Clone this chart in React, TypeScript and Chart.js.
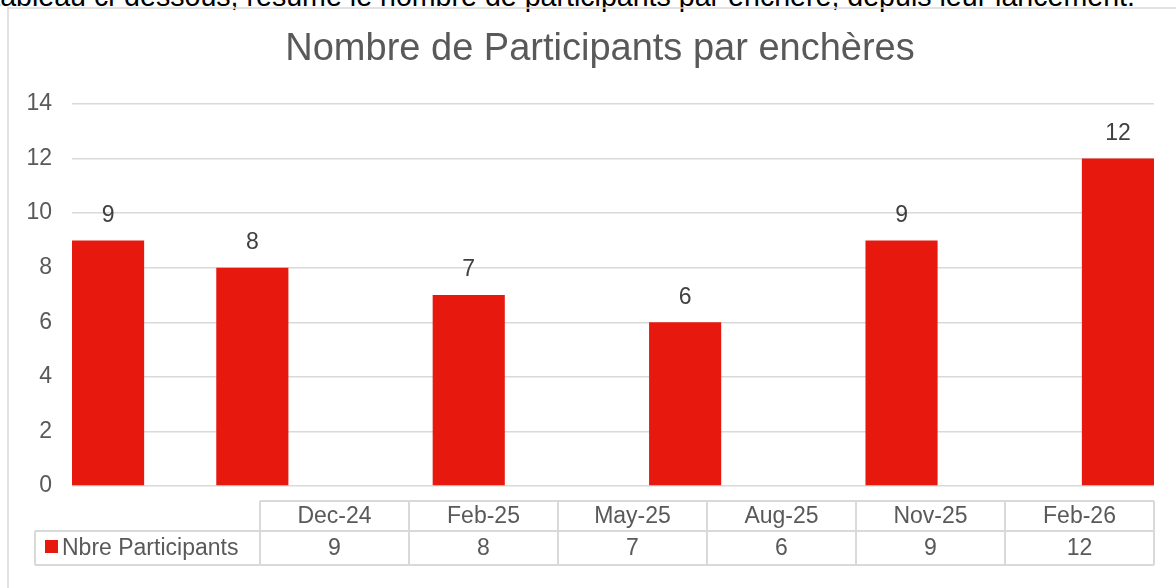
import React, { useEffect, useRef } from 'react';
import { Chart, registerables } from 'chart.js';

Chart.register(...registerables);

const INTRO_TEXT = 'Le tableau ci-dessous, résume le nombre de participants par enchère, depuis leur lancement.';
const TITLE = 'Nombre de Participants par enchères';
const SERIES_NAME = 'Nbre Participants';
const CATEGORIES = ['Dec-24', 'Feb-25', 'May-25', 'Aug-25', 'Nov-25', 'Feb-26'];
const VALUES = [9, 8, 7, 6, 9, 12];
const Y_MIN = 0;
const Y_MAX = 14;
const Y_STEP = 2;

const MONTHS = ['Jan', 'Feb', 'Mar', 'Apr', 'May', 'Jun', 'Jul', 'Aug', 'Sep', 'Oct', 'Nov', 'Dec'];
function monthNumber(label: string): number {
  const [m, y] = label.split('-');
  return (2000 + Number(y)) * 12 + MONTHS.indexOf(m);
}
const BASE_MONTH = monthNumber(CATEGORIES[0]);
const POSITIONS = CATEGORIES.map((c) => monthNumber(c) - BASE_MONTH);

const RED = '#E7190F';
const GRID = '#D9D9D9';
const TEXT = '#595959';
const LABEL = '#404040';
const FONT = '"Liberation Sans", Arial, sans-serif';

const decoPlugin = {
  id: 'deco',
  afterDatasetsDraw(chart: any) {
    const ctx = chart.ctx;
    const meta = chart.getDatasetMeta(0);
    ctx.save();
    ctx.fillStyle = LABEL;
    ctx.font = `23px ${FONT}`;
    ctx.textAlign = 'center';
    ctx.textBaseline = 'middle';
    meta.data.forEach((bar: any, i: number) => {
      ctx.fillText(String(VALUES[i]), bar.x, bar.y - 25);
    });
    ctx.restore();
  },
  afterDraw(chart: any) {
    const ctx = chart.ctx;
    const area = chart.chartArea;
    ctx.save();

    // outer frame (left + top)
    ctx.strokeStyle = GRID;
    ctx.lineWidth = 1.5;
    ctx.beginPath();
    ctx.moveTo(8, chart.height);
    ctx.lineTo(8, 8);
    ctx.lineTo(chart.width, 8);
    ctx.stroke();

    // title
    ctx.fillStyle = TEXT;
    ctx.font = `38px ${FONT}`;
    ctx.textAlign = 'center';
    ctx.textBaseline = 'middle';
    ctx.fillText(TITLE, 600, 50);

    // data table
    const top = area.bottom + 15;
    const mid = top + 30;
    const bottom = mid + 34;
    const tableLeft = 260;
    const legendLeft = 35;
    const right = area.right;
    const colW = (right - tableLeft) / CATEGORIES.length;

    ctx.strokeStyle = GRID;
    ctx.lineWidth = 2;
    ctx.beginPath();
    ctx.moveTo(tableLeft, top);
    ctx.lineTo(right, top);
    ctx.moveTo(legendLeft, mid);
    ctx.lineTo(right, mid);
    ctx.moveTo(legendLeft, bottom);
    ctx.lineTo(right, bottom);
    ctx.moveTo(legendLeft, mid);
    ctx.lineTo(legendLeft, bottom);
    for (let i = 0; i <= CATEGORIES.length; i++) {
      const x = tableLeft + i * colW;
      ctx.moveTo(x, top);
      ctx.lineTo(x, bottom);
    }
    ctx.stroke();

    ctx.fillStyle = TEXT;
    ctx.font = `23px ${FONT}`;
    ctx.textAlign = 'center';
    ctx.textBaseline = 'middle';
    CATEGORIES.forEach((c, i) => {
      const cx = tableLeft + (i + 0.5) * colW;
      ctx.fillText(c, cx, (top + mid) / 2 + 1);
      ctx.fillText(String(VALUES[i]), cx, (mid + bottom) / 2 + 1);
    });

    // legend cell
    ctx.fillStyle = RED;
    ctx.fillRect(45, mid + 9, 13, 13);
    ctx.fillStyle = TEXT;
    ctx.textAlign = 'left';
    ctx.fillText(SERIES_NAME, 62, (mid + bottom) / 2 + 1);

    ctx.restore();
  },
};

export default function App() {
  const ref = useRef<HTMLCanvasElement | null>(null);

  useEffect(() => {
    if (!ref.current) return;
    const chart = new Chart(ref.current, {
      type: 'bar',
      data: {
        datasets: [
          {
            label: SERIES_NAME,
            data: POSITIONS.map((x, i) => ({ x, y: VALUES[i] })),
            backgroundColor: RED,
            borderWidth: 0,
            barPercentage: 0.5,
            categoryPercentage: 1,
          },
        ],
      },
      options: {
        responsive: false,
        animation: false,
        layout: { padding: { left: 22, right: 22, top: 104, bottom: 102 } },
        plugins: {
          legend: { display: false },
          title: { display: false },
          tooltip: { enabled: false },
        },
        scales: {
          x: {
            type: 'linear',
            display: false,
            offset: false,
            grid: { offset: false },
            min: POSITIONS[0] - 0.5,
            max: POSITIONS[POSITIONS.length - 1] + 0.5,
            afterBuildTicks: (s: any) => {
              s.ticks = POSITIONS.map((v) => ({ value: v }));
            },
          },
          y: {
            min: Y_MIN,
            max: Y_MAX,
            ticks: {
              stepSize: Y_STEP,
              padding: 20,
              color: TEXT,
              font: { family: FONT, size: 23 },
            },
            grid: { color: GRID, lineWidth: 1.5, drawTicks: false },
            border: { display: false },
            afterFit: (s: any) => {
              s.width = 50;
            },
          },
        },
      },
      plugins: [decoPlugin],
    } as any);
    return () => chart.destroy();
  }, []);

  return (
    <div
      style={{
        position: 'fixed',
        left: 0,
        top: 0,
        width: 1176,
        height: 588,
        overflow: 'hidden',
        background: '#fff',
      }}
    >
      <div
        style={{
          position: 'absolute',
          right: 41,
          top: -20,
          whiteSpace: 'nowrap',
          fontFamily: FONT,
          fontSize: 28.6,
          color: '#000',
        }}
      >
        {INTRO_TEXT}
      </div>
      <canvas ref={ref} width={1176} height={588} style={{ position: 'absolute', left: 0, top: 0 }} />
    </div>
  );
}
